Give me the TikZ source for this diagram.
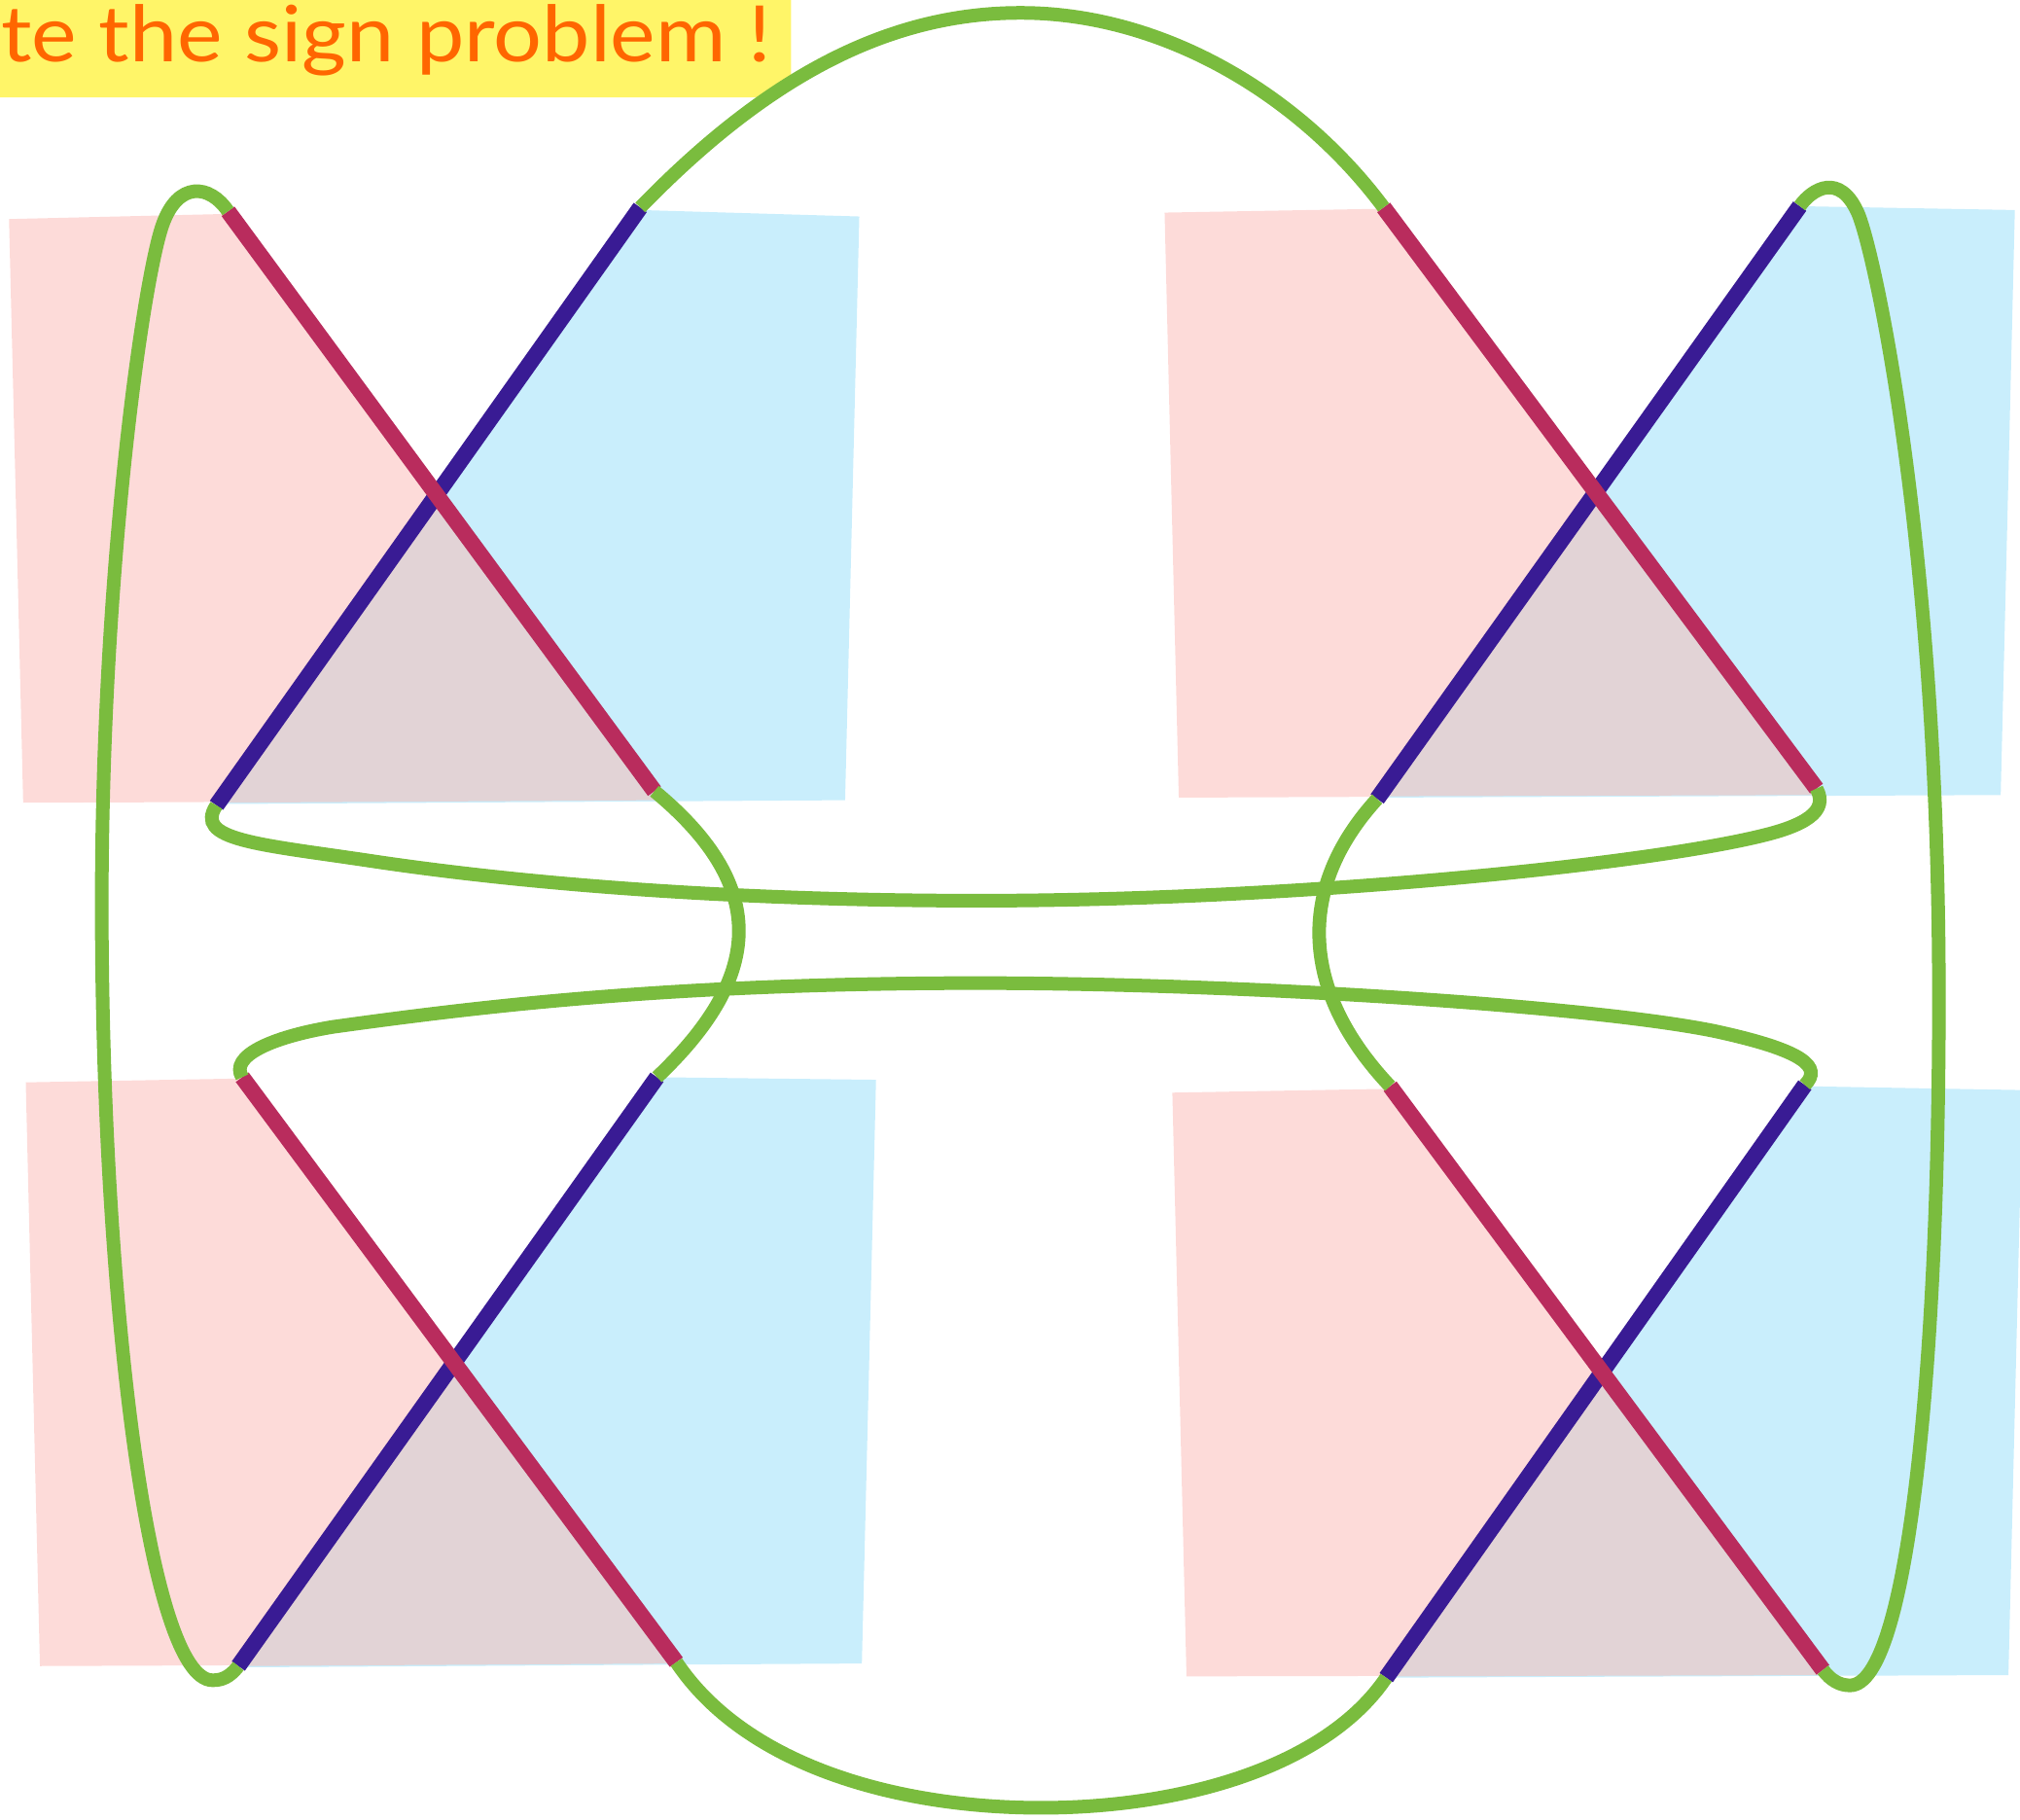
\documentclass[tikz,border=0pt]{standalone}
\usepackage{fontspec}
\newfontfamily\titlefont{Lato}
\definecolor{pinkf}{RGB}{253,219,217}
\definecolor{bluef}{RGB}{201,238,252}
\definecolor{mauvef}{RGB}{226,211,214}
\definecolor{redl}{RGB}{185,44,93}
\definecolor{bluel}{RGB}{57,27,148}
\definecolor{greenl}{RGB}{122,188,62}
\definecolor{yellowb}{RGB}{255,245,104}
\definecolor{oranget}{RGB}{255,102,0}
\begin{document}
\begin{tikzpicture}[x=1.3246pt,y=-1.3246pt,
  redline/.style={draw=redl,line width=16.5pt},
  blueline/.style={draw=bluel,line width=16.5pt},
  greenline/.style={draw=greenl,line width=14pt},
  pinkpanel/.style={fill=pinkf},
  bluepanel/.style={fill=bluef},
  overlap/.style={fill=mauvef}]
\useasboundingbox (0,0) rectangle (1568,1412);
\clip (0,0) rectangle (1568,1412);

% title box
\fill[yellowb, rounded corners=20pt] (-30,-30) -- (614,-30) -- (614,75.5) -- (-30,75.5) -- cycle;
\node[anchor=base west, inner sep=0pt, text=oranget,
      font=\titlefont\fontsize{80}{84}\selectfont] (title) at (1,48)
      {\scalebox{1.1}[1]{te the sign problem !}};

% ---------- panel coordinates ----------
% top-left
\coordinate (tlRt) at (177,164); \coordinate (tlRb) at (508,614);
\coordinate (tlBt) at (497,161); \coordinate (tlBb) at (168,625);
% top-right
\coordinate (trRt) at (1074,161); \coordinate (trRb) at (1410,612);
\coordinate (trBt) at (1397,160); \coordinate (trBb) at (1069,620);
% bottom-left
\coordinate (blRt) at (188,836); \coordinate (blRb) at (525,1290);
\coordinate (blBt) at (510,836); \coordinate (blBb) at (185,1293);
% bottom-right
\coordinate (brRt) at (1079,843); \coordinate (brRb) at (1415,1296);
\coordinate (brBt) at (1401,842); \coordinate (brBb) at (1076,1302);

% ---------- fills ----------
\fill[pinkpanel] (7,170) -- (177,166) -- (513,621) -- (18,623) -- cycle;
\fill[bluepanel] (497,163) -- (667,168) -- (656,621) -- (168,624) -- cycle;
\fill[overlap] (intersection of tlRt--tlRb and tlBt--tlBb) -- (513,621) -- (168,623) -- cycle;

\fill[pinkpanel] (904,165) -- (1074,162) -- (1414,617) -- (915,619) -- cycle;
\fill[bluepanel] (1396,160) -- (1564,163) -- (1553,617) -- (1068,619) -- cycle;
\fill[overlap] (intersection of trRt--trRb and trBt--trBb) -- (1414,617) -- (1068,618) -- cycle;

\fill[pinkpanel] (20,840) -- (188,837) -- (526,1291) -- (31,1293) -- cycle;
\fill[bluepanel] (510,836) -- (680,838) -- (669,1291) -- (184,1294) -- cycle;
\fill[overlap] (intersection of blRt--blRb and blBt--blBb) -- (526,1291) -- (184,1293) -- cycle;

\fill[pinkpanel] (910,848) -- (1079,845) -- (1418,1300) -- (921,1301) -- cycle;
\fill[bluepanel] (1401,843) -- (1570,846) -- (1559,1300) -- (1076,1302) -- cycle;
\fill[overlap] (intersection of brRt--brRb and brBt--brBb) -- (1418,1300) -- (1076,1301) -- cycle;

% ---------- straight strands ----------
\draw[blueline] (tlBt) -- (tlBb);
\draw[redline] (tlRt) -- (tlRb);
\draw[blueline] (trBt) -- (trBb);
\draw[redline] (trRt) -- (trRb);
\draw[blueline] (blBt) -- (blBb);
\draw[redline] (blRt) -- (blRb);
\draw[blueline] (brBt) -- (brBb);
\draw[redline] (brRt) -- (brRb);

% ---------- green connections ----------
\draw[greenline] (tlBt) .. controls (595,60) and (690,9) .. (795,10)
                        .. controls (905,11) and (1010,75) .. (trRt);
\draw[greenline] (tlRt) .. controls (163,143) and (138,140) .. (126,175)
                        .. controls (112,215) and (80,430) .. (79,690)
                        .. controls (78,1000) and (115,1304) .. (165,1304)
                        .. controls (172,1304) and (178,1302) .. (blBb);
\draw[greenline] (trBt) .. controls (1407,146) and (1428,134) .. (1442,165)
                        .. controls (1455,194) and (1504,420) .. (1505,760)
                        .. controls (1506,1050) and (1482,1308) .. (1436,1308)
                        .. controls (1428,1308) and (1421,1304) .. (brRb);
\draw[greenline] (tlBb) .. controls (150,652) and (200,655) .. (287,668)
                        .. controls (400,685) and (560,699) .. (760,699)
                        .. controls (1000,699) and (1270,672) .. (1366,649)
                        .. controls (1400,641) and (1420,630) .. (trRb);
\draw[greenline] (blRt) .. controls (178,820) and (210,805) .. (258,797)
                        .. controls (380,780) and (520,764) .. (740,763)
                        .. controls (950,762) and (1230,780) .. (1330,800)
                        .. controls (1400,815) and (1415,828) .. (brBt);
\draw[greenline] (tlRb) .. controls (600,690) and (590,760) .. (blBt);
\draw[greenline] (trBb) .. controls (1005,690) and (1010,770) .. (brRt);
\draw[greenline] (blRb) .. controls (580,1372) and (700,1403) .. (808,1403)
                        .. controls (920,1403) and (1030,1370) .. (brBb);
\end{tikzpicture}
\end{document}
